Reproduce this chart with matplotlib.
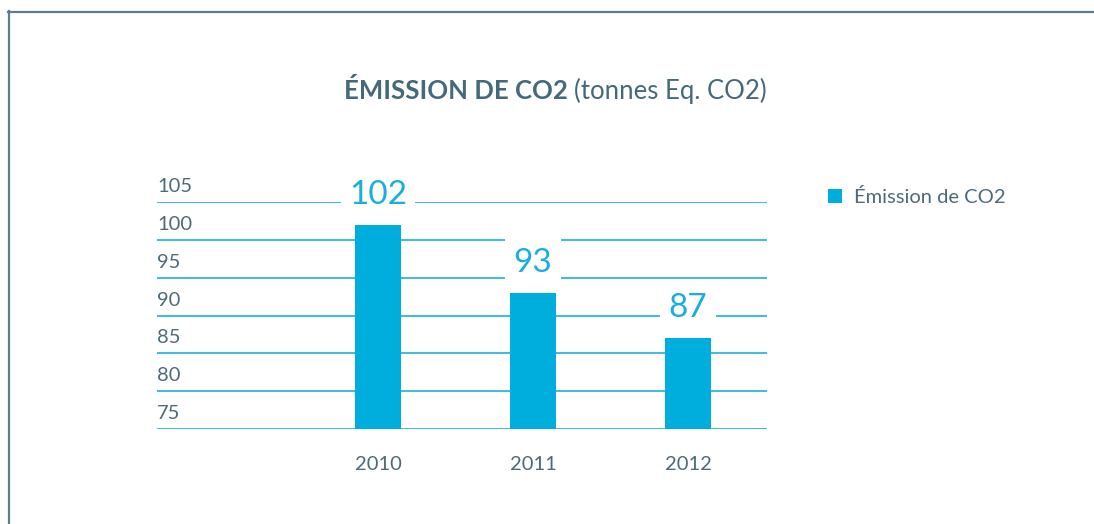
import matplotlib.pyplot as plt
from matplotlib.lines import Line2D
from matplotlib.transforms import offset_copy

annees = ["2010", "2011", "2012"]
emissions = [102, 93, 87]
graduations = [75, 80, 85, 90, 95, 100, 105]

bleu = "#00aedd"
gris = "#4d6a7a"

plt.rcParams['font.family'] = ['Lato', 'DejaVu Sans']

W, H = 1094, 524
fig = plt.figure(figsize=(W / 100, H / 100), dpi=100)

# cadre gris en haut et a gauche
fig.add_artist(Line2D([8 / W, 1], [1 - 11.5 / H] * 2, color="#5f7d8c", lw=1.6))
fig.add_artist(Line2D([8.5 / W] * 2, [0, 1 - 11 / H], color="#5f7d8c", lw=1.6))

# titre en deux morceaux
fig.text(568 / W, 1 - 99 / H, "ÉMISSION DE CO2", ha="right", va="baseline",
         fontsize=18.5, fontweight="bold", color="#44697b")
fig.text(574 / W, 1 - 99 / H, "(tonnes Eq. CO2)", ha="left", va="baseline",
         fontsize=18.5, color="#44697b")

ax = fig.add_axes([157 / W, (H - 429) / H, (767 - 157) / W, (429 - 202) / H])
x = list(range(len(annees)))
barres = ax.bar(x, emissions, width=0.3, color=bleu, zorder=3, label="Émission de CO2")
ax.set_ylim(75, 105)
ax.set_xlim(-1.426, 2.51)

for v in graduations:
    ax.axhline(v, color="#2db6e2", lw=1.3, zorder=1)
    ax.text(0, v, str(v), transform=offset_copy(ax.get_yaxis_transform(), fig, x=0, y=10, units="dots"),
            ha="left", va="baseline", fontsize=14.5, color=gris)

for xi, an in zip(x, annees):
    ax.text(xi, 75, an, transform=offset_copy(ax.transData, fig, x=0, y=-41, units="dots"),
            ha="center", va="baseline", fontsize=14.5, color=gris)

for xi, v in zip(x, emissions):
    ax.text(xi, v, str(v), transform=offset_copy(ax.transData, fig, x=0, y=21, units="dots"),
            ha="center", va="baseline", fontsize=24, color="#1aaee0", zorder=4,
            bbox=dict(facecolor="white", edgecolor="none", pad=6), clip_on=False)

for s in ax.spines.values():
    s.set_visible(False)
ax.set_xticks([])
ax.set_yticks([])

leg = fig.legend(handles=[barres], loc="center left", bbox_to_anchor=(828 / W, 1 - 197 / H),
                 frameon=False, handlelength=0.7, handleheight=0.7,
                 handletextpad=0.6, borderpad=0, borderaxespad=0, labelcolor=gris,
                 prop={"size": 14.5})

fig.savefig("out.png", dpi=100)
